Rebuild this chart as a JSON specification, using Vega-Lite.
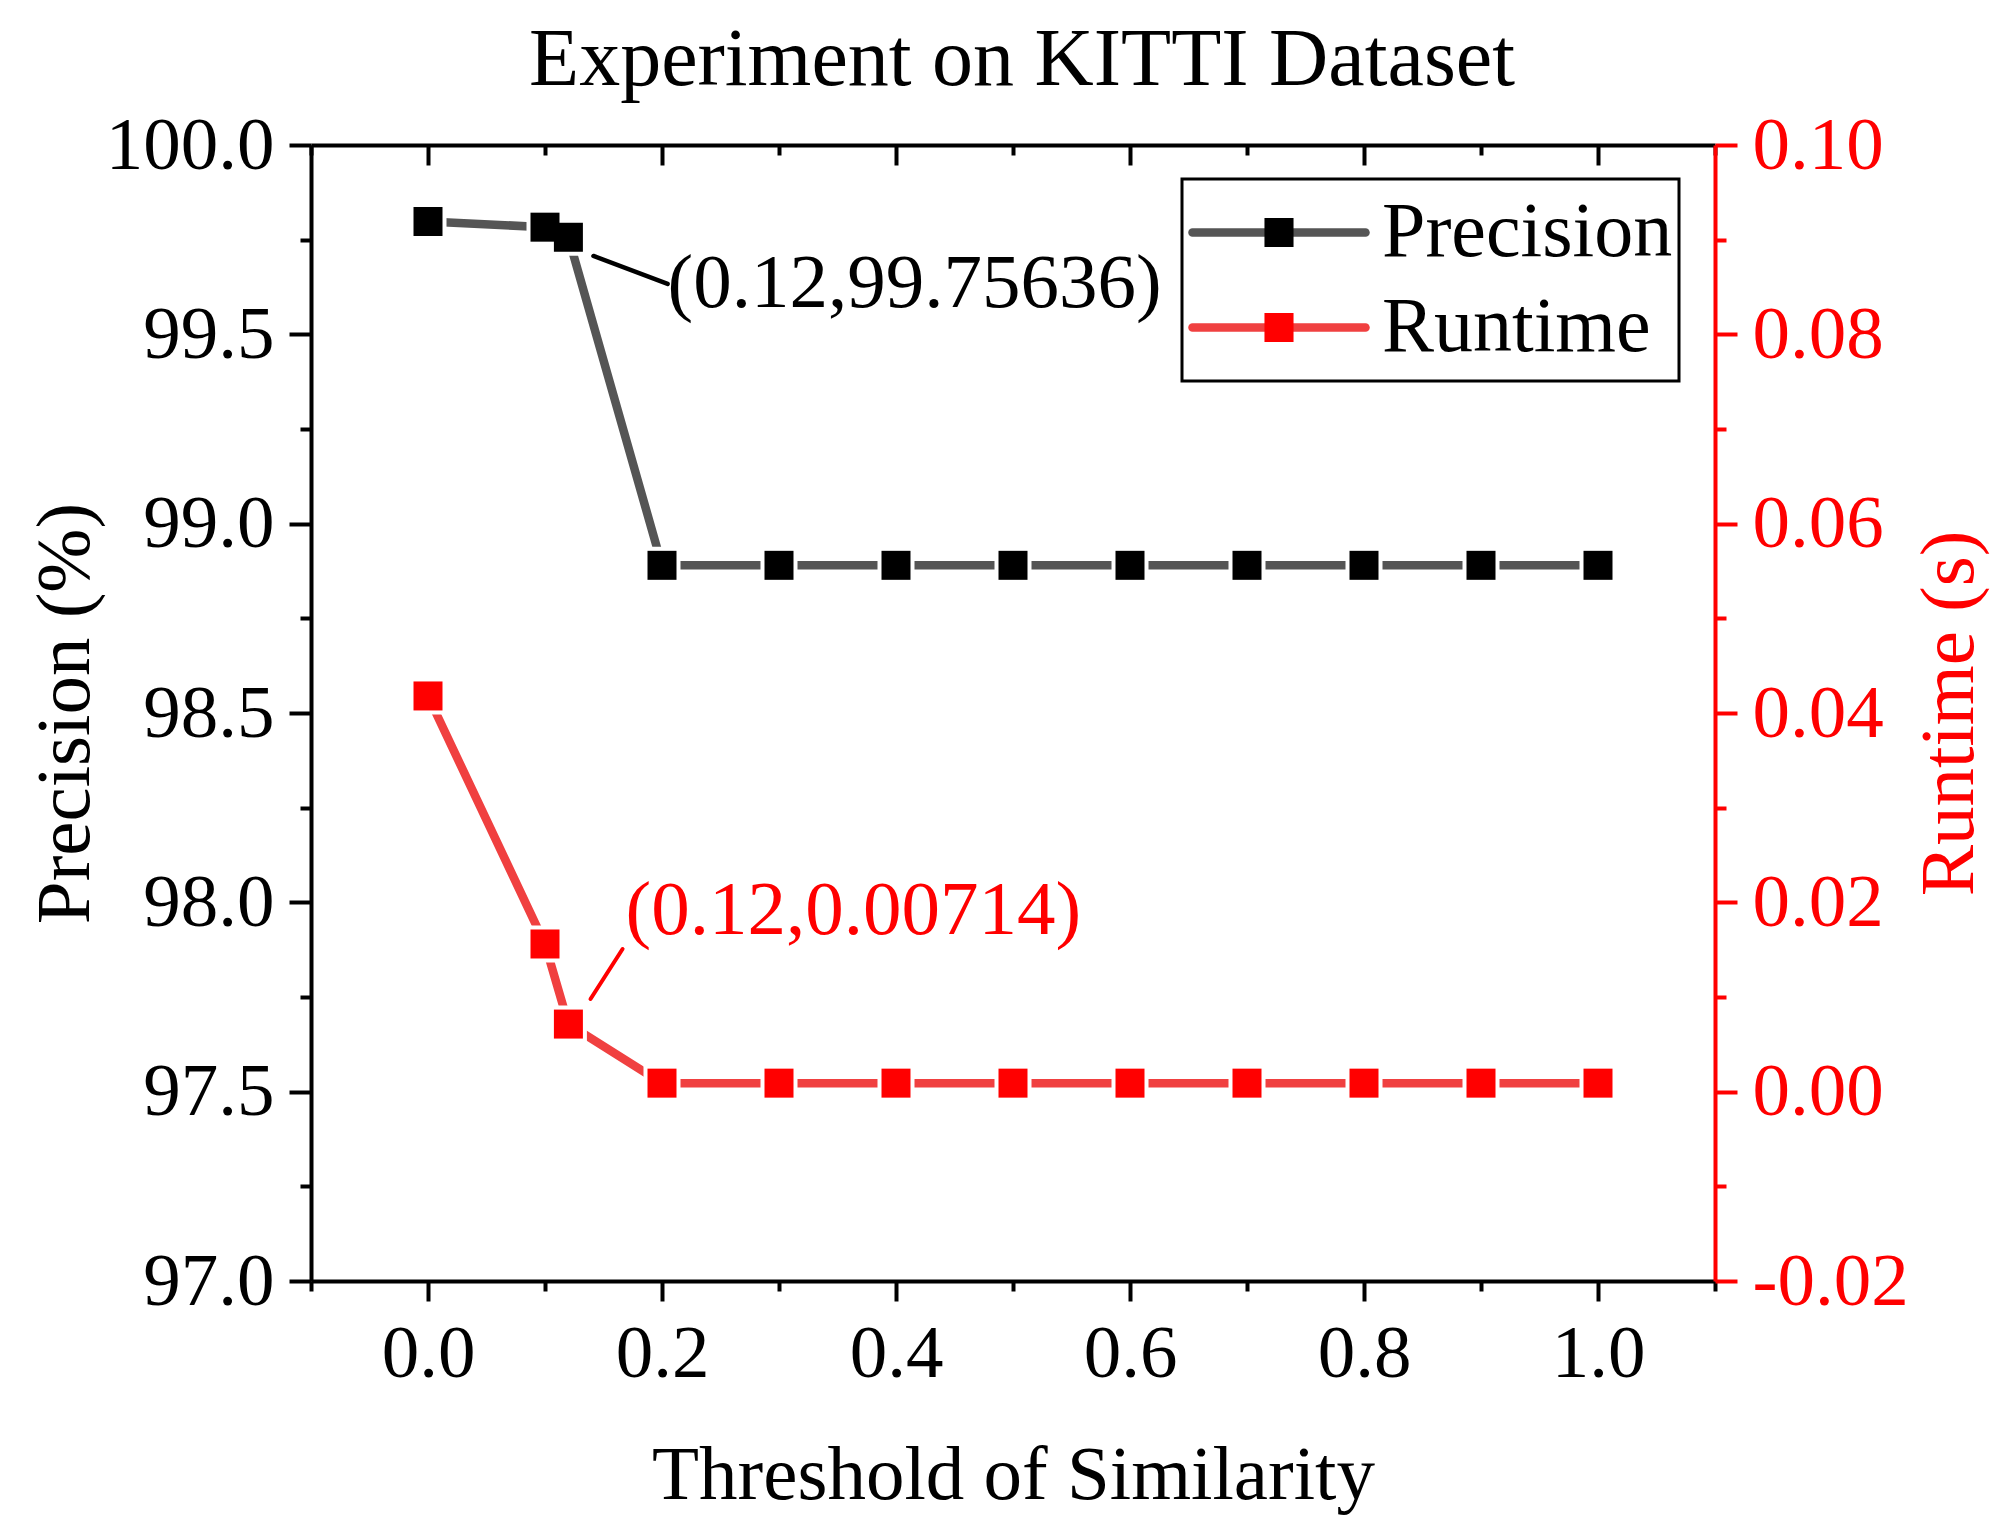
{
  "$schema": "https://vega.github.io/schema/vega-lite/v6.json",
  "width": 1404,
  "height": 1136,
  "padding": {"left": 26, "top": 19, "right": 20, "bottom": 15},
  "background": "white",
  "config": {
    "font": "Liberation Serif",
    "view": {"stroke": null},
    "axis": {
      "grid": false,
      "labelFont": "Liberation Serif",
      "titleFont": "Liberation Serif",
      "labelFontSize": 75,
      "titleFontSize": 77,
      "titleFontWeight": "normal",
      "domainWidth": 4,
      "tickWidth": 4,
      "labelColor": "black",
      "titleColor": "black",
      "domainColor": "black",
      "tickColor": "black",
      "labelOverlap": false,
      "labelFlush": false
    }
  },
  "title": {
    "text": "Experiment on KITTI Dataset",
    "font": "Liberation Serif",
    "fontSize": 82,
    "fontWeight": "normal",
    "color": "black",
    "frame": "group",
    "anchor": "middle",
    "baseline": "alphabetic",
    "offset": -59,
    "dx": 9
  },
  "layer": [
    {
      "encoding": {
        "x": {
          "field": "t",
          "type": "quantitative",
          "scale": {"domain": [-0.1, 1.1], "nice": false, "zero": false},
          "axis": {
            "orient": "bottom",
            "values": [-0.1, 0, 0.1, 0.2, 0.3, 0.4, 0.5, 0.6, 0.7, 0.8, 0.9, 1.0, 1.1],
            "labelExpr": "round(datum.value*10) % 2 === 0 && datum.value > -0.05 ? format(datum.value, '.1f') : ''",
            "tickSize": {"condition": {"test": "round(datum.value*10) % 2 === 0", "value": 20}, "value": 10},
            "labelPadding": 16,
            "title": "Threshold of Similarity",
            "titlePadding": 46
          }
        },
        "y": {
          "field": "p",
          "type": "quantitative",
          "scale": {"domain": [97, 100], "nice": false, "zero": false},
          "axis": {
            "orient": "left",
            "values": [97, 97.25, 97.5, 97.75, 98, 98.25, 98.5, 98.75, 99, 99.25, 99.5, 99.75, 100],
            "labelExpr": "round(datum.value*4) % 2 === 0 ? format(datum.value, '.1f') : ''",
            "tickSize": {"condition": {"test": "round(datum.value*4) % 2 === 0", "value": 22}, "value": 11},
            "labelPadding": 15,
            "title": "Precision (%)",
            "titlePadding": 7
          }
        }
      },
      "layer": [
        {
          "data": {"values": [
            {"t": 0, "p": 99.798},
            {"t": 0.1, "p": 99.783},
            {"t": 0.12, "p": 99.75636},
            {"t": 0.2, "p": 98.89},
            {"t": 0.3, "p": 98.89},
            {"t": 0.4, "p": 98.89},
            {"t": 0.5, "p": 98.89},
            {"t": 0.6, "p": 98.89},
            {"t": 0.7, "p": 98.89},
            {"t": 0.8, "p": 98.89},
            {"t": 0.9, "p": 98.89},
            {"t": 1.0, "p": 98.89}
          ]},
          "mark": {"type": "line", "strokeWidth": 8.5, "strokeCap": "round", "strokeJoin": "round"},
          "encoding": {
            "color": {
              "datum": "Precision",
              "type": "nominal",
              "scale": {"domain": ["Precision", "Runtime"], "range": ["#555555", "#f04040"]},
              "legend": {
                "orient": "none",
                "legendX": 871,
                "legendY": 34,
                "title": null,
                "direction": "vertical",
                "labelFont": "Liberation Serif",
                "labelFontSize": 78,
                "labelColor": "black",
                "labelOffset": 12,
                "labelLimit": 0,
                "strokeColor": "black",
                "fillColor": "white",
                "padding": 6,
                "rowPadding": 0,
                "clipHeight": 95,
                "symbolType": "M-1,0H1",
                "symbolSize": 29929,
                "symbolStrokeWidth": 8.5,
                "zindex": 1,
                "encode": {
                  "legend": {"update": {"strokeWidth": {"value": 3}}},
                  "symbols": {"update": {
                    "fill": {"value": "transparent"},
                    "strokeCap": {"value": "round"},
                    "strokeWidth": {"value": 8.5}
                  }}
                }
              }
            }
          }
        },
        {
          "data": {"values": [
            {"t": 0, "p": 99.798},
            {"t": 0.1, "p": 99.783},
            {"t": 0.12, "p": 99.75636},
            {"t": 0.2, "p": 98.89},
            {"t": 0.3, "p": 98.89},
            {"t": 0.4, "p": 98.89},
            {"t": 0.5, "p": 98.89},
            {"t": 0.6, "p": 98.89},
            {"t": 0.7, "p": 98.89},
            {"t": 0.8, "p": 98.89},
            {"t": 0.9, "p": 98.89},
            {"t": 1.0, "p": 98.89}
          ]},
          "mark": {"type": "point", "shape": "square", "filled": true, "size": 1369, "color": "#ffffff", "opacity": 1, "strokeWidth": 0}
        },
        {
          "data": {"values": [
            {"t": 0, "p": 99.798},
            {"t": 0.1, "p": 99.783},
            {"t": 0.12, "p": 99.75636},
            {"t": 0.2, "p": 98.89},
            {"t": 0.3, "p": 98.89},
            {"t": 0.4, "p": 98.89},
            {"t": 0.5, "p": 98.89},
            {"t": 0.6, "p": 98.89},
            {"t": 0.7, "p": 98.89},
            {"t": 0.8, "p": 98.89},
            {"t": 0.9, "p": 98.89},
            {"t": 1.0, "p": 98.89}
          ]},
          "mark": {"type": "point", "shape": "square", "filled": true, "size": 841, "opacity": 1, "strokeWidth": 0},
          "encoding": {
            "fill": {
              "datum": "Precision ",
              "type": "nominal",
              "scale": {"domain": ["Precision ", "Runtime "], "range": ["#000000", "#ff0000"]},
              "legend": {
                "orient": "none",
                "legendX": 871,
                "legendY": 34,
                "title": null,
                "direction": "vertical",
                "labelFont": "Liberation Serif",
                "labelFontSize": 78,
                "labelColor": "black",
                "labelOpacity": 0,
                "labelOffset": 12,
                "labelLimit": 0,
                "padding": 6,
                "rowPadding": 0,
                "clipHeight": 95,
                "symbolType": "M-0.168,-0.168H0.168V0.168H-0.168Z",
                "symbolSize": 29929,
                "symbolStrokeWidth": 8.5,
                "zindex": 3,
                "encode": {
                  "symbols": {"update": {
                    "stroke": {"value": "transparent"},
                    "fillOpacity": {"value": 1},
                    "opacity": {"value": 1},
                    "strokeWidth": {"value": 8.5}
                  }}
                }
              }
            }
          }
        },
        {
          "data": {"values": [{"t": 0.1414, "p": 99.707, "t2": 0.2048, "p2": 99.633}]},
          "mark": {"type": "rule", "color": "#000000", "strokeWidth": 4.5, "strokeCap": "round"},
          "encoding": {"x2": {"field": "t2"}, "y2": {"field": "p2"}}
        },
        {
          "data": {"values": [{"t": 0.2048, "p": 99.572, "label": "(0.12,99.75636)"}]},
          "mark": {"type": "text", "align": "left", "baseline": "alphabetic", "font": "Liberation Serif", "fontSize": 77, "color": "#000000"},
          "encoding": {"text": {"field": "label"}}
        }
      ]
    },
    {
      "encoding": {
        "x": {
          "field": "t",
          "type": "quantitative",
          "scale": {"domain": [-0.1, 1.1], "nice": false, "zero": false},
          "axis": {
            "orient": "top",
            "values": [-0.1, 0, 0.1, 0.2, 0.3, 0.4, 0.5, 0.6, 0.7, 0.8, 0.9, 1.0, 1.1],
            "labels": false,
            "tickSize": {"condition": {"test": "round(datum.value*10) % 2 === 0", "value": -20}, "value": -10},
            "title": null
          }
        },
        "y": {
          "field": "r",
          "type": "quantitative",
          "scale": {"domain": [-0.02, 0.1], "nice": false, "zero": false},
          "axis": {
            "orient": "right",
            "values": [-0.02, -0.01, 0, 0.01, 0.02, 0.03, 0.04, 0.05, 0.06, 0.07, 0.08, 0.09, 0.1],
            "labelExpr": "round(datum.value*100) % 2 === 0 ? (datum.value < 0 ? '-' + format(abs(datum.value), '.2f') : format(datum.value, '.2f')) : ''",
            "tickSize": {"condition": {"test": "round(datum.value*100) % 2 === 0", "value": 22}, "value": 11},
            "labelPadding": 15,
            "domainColor": "#ff0000",
            "tickColor": "#ff0000",
            "labelColor": "#ff0000",
            "titleColor": "#ff0000",
            "title": "Runtime (s)",
            "titleAngle": 270,
            "titleBaseline": "top",
            "titlePadding": 3
          }
        }
      },
      "layer": [
        {
          "data": {"values": [
            {"t": 0, "r": 0.0418},
            {"t": 0.1, "r": 0.0156},
            {"t": 0.12, "r": 0.00714},
            {"t": 0.2, "r": 0.0009},
            {"t": 0.3, "r": 0.0009},
            {"t": 0.4, "r": 0.0009},
            {"t": 0.5, "r": 0.0009},
            {"t": 0.6, "r": 0.0009},
            {"t": 0.7, "r": 0.0009},
            {"t": 0.8, "r": 0.0009},
            {"t": 0.9, "r": 0.0009},
            {"t": 1.0, "r": 0.0009}
          ]},
          "mark": {"type": "line", "strokeWidth": 8.5, "strokeCap": "round", "strokeJoin": "round"},
          "encoding": {
            "color": {"datum": "Runtime", "type": "nominal"}
          }
        },
        {
          "data": {"values": [
            {"t": 0, "r": 0.0418},
            {"t": 0.1, "r": 0.0156},
            {"t": 0.12, "r": 0.00714},
            {"t": 0.2, "r": 0.0009},
            {"t": 0.3, "r": 0.0009},
            {"t": 0.4, "r": 0.0009},
            {"t": 0.5, "r": 0.0009},
            {"t": 0.6, "r": 0.0009},
            {"t": 0.7, "r": 0.0009},
            {"t": 0.8, "r": 0.0009},
            {"t": 0.9, "r": 0.0009},
            {"t": 1.0, "r": 0.0009}
          ]},
          "mark": {"type": "point", "shape": "square", "filled": true, "size": 1369, "color": "#ffffff", "opacity": 1, "strokeWidth": 0}
        },
        {
          "data": {"values": [
            {"t": 0, "r": 0.0418},
            {"t": 0.1, "r": 0.0156},
            {"t": 0.12, "r": 0.00714},
            {"t": 0.2, "r": 0.0009},
            {"t": 0.3, "r": 0.0009},
            {"t": 0.4, "r": 0.0009},
            {"t": 0.5, "r": 0.0009},
            {"t": 0.6, "r": 0.0009},
            {"t": 0.7, "r": 0.0009},
            {"t": 0.8, "r": 0.0009},
            {"t": 0.9, "r": 0.0009},
            {"t": 1.0, "r": 0.0009}
          ]},
          "mark": {"type": "point", "shape": "square", "filled": true, "size": 841, "opacity": 1, "strokeWidth": 0},
          "encoding": {
            "fill": {"datum": "Runtime ", "type": "nominal"}
          }
        },
        {
          "data": {"values": [{"t": 0.1389, "r": 0.00979, "t2": 0.1663, "r2": 0.01507}]},
          "mark": {"type": "rule", "color": "#ff0000", "strokeWidth": 4, "strokeCap": "round"},
          "encoding": {"x2": {"field": "t2"}, "y2": {"field": "r2"}}
        },
        {
          "data": {"values": [{"t": 0.1688, "r": 0.01665, "label": "(0.12,0.00714)"}]},
          "mark": {"type": "text", "align": "left", "baseline": "alphabetic", "font": "Liberation Serif", "fontSize": 77, "color": "#ff0000"},
          "encoding": {"text": {"field": "label"}}
        }
      ]
    }
  ],
  "resolve": {
    "scale": {"y": "independent"},
    "axis": {"y": "independent", "x": "independent"}
  }
}
